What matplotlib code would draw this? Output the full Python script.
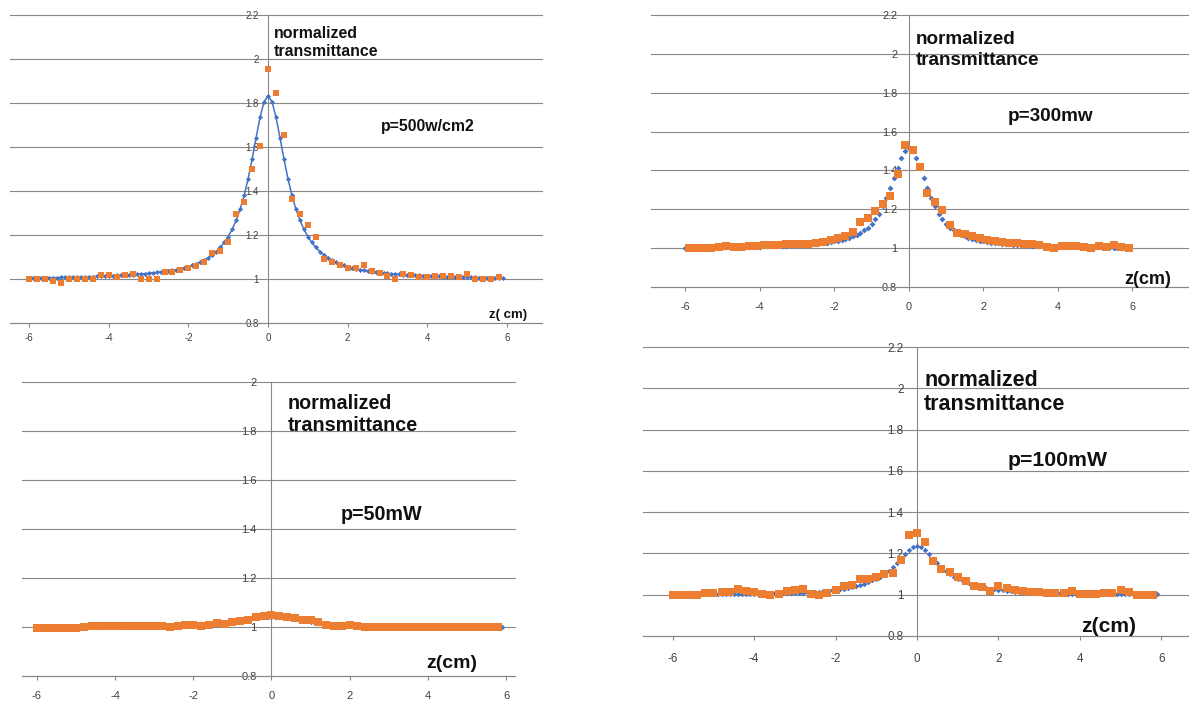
import numpy as np
import matplotlib.pyplot as plt
from matplotlib.ticker import FixedLocator, FixedFormatter

plt.rcParams['font.family'] = ['Liberation Sans', 'DejaVu Sans']
plt.rcParams['axes.unicode_minus'] = False

# --- data ---
# fitted curve sampled every 0.1 from -6.0 to 5.9, measured points every 0.2
z_fit = np.round(np.arange(-60, 60) / 10, 1)
z_meas = np.round(np.arange(-30, 30) * 0.2, 1)        # -6.0 .. 5.8
z_meas_odd = np.round(np.arange(-29.5, 30) * 0.2, 1)  # -5.9 .. 5.9

fit_500 = [1.004, 1.004, 1.005, 1.005, 1.005, 1.006, 1.006, 1.006, 1.007, 1.007,
           1.008, 1.008, 1.009, 1.009, 1.010, 1.010, 1.011, 1.012, 1.012, 1.013,
           1.014, 1.015, 1.016, 1.017, 1.018, 1.019, 1.020, 1.021, 1.023, 1.024,
           1.026, 1.028, 1.030, 1.032, 1.034, 1.037, 1.040, 1.043, 1.047, 1.051,
           1.056, 1.062, 1.069, 1.077, 1.086, 1.097, 1.110, 1.125, 1.144, 1.166,
           1.193, 1.226, 1.267, 1.318, 1.380, 1.456, 1.545, 1.642, 1.736, 1.806,
           1.833,
           1.806, 1.736, 1.642, 1.545, 1.456, 1.380, 1.318, 1.267, 1.226, 1.193,
           1.166, 1.144, 1.125, 1.110, 1.097, 1.086, 1.077, 1.069, 1.062, 1.056,
           1.051, 1.047, 1.043, 1.040, 1.037, 1.034, 1.032, 1.030, 1.028, 1.026,
           1.024, 1.023, 1.021, 1.020, 1.019, 1.018, 1.017, 1.016, 1.015, 1.014,
           1.013, 1.012, 1.012, 1.011, 1.010, 1.010, 1.009, 1.009, 1.008, 1.008,
           1.007, 1.007, 1.006, 1.006, 1.006, 1.005, 1.005, 1.005, 1.004]
meas_500 = [1.000, 1.000, 1.000, 0.990, 0.980, 1.000, 1.000, 1.000, 1.000, 1.018,
            1.018, 1.008, 1.018, 1.024, 1.000, 1.000, 1.000, 1.030, 1.030, 1.040,
            1.050, 1.060, 1.076, 1.120, 1.126, 1.167, 1.297, 1.348, 1.500, 1.603,
            1.955, 1.844, 1.655, 1.365, 1.294, 1.244, 1.190, 1.090, 1.076, 1.065,
            1.050, 1.050, 1.062, 1.035, 1.027, 1.015, 1.000, 1.024, 1.020, 1.010,
            1.010, 1.015, 1.012, 1.012, 1.008, 1.024, 1.000, 1.000, 1.000, 1.010]

fit_300 = [1.002, 1.003, 1.003, 1.003, 1.003, 1.003, 1.004, 1.004, 1.004, 1.004,
           1.005, 1.005, 1.005, 1.006, 1.006, 1.006, 1.007, 1.007, 1.007, 1.008,
           1.008, 1.009, 1.009, 1.010, 1.011, 1.011, 1.012, 1.013, 1.014, 1.015,
           1.016, 1.017, 1.018, 1.019, 1.021, 1.023, 1.025, 1.027, 1.029, 1.032,
           1.035, 1.039, 1.043, 1.048, 1.054, 1.061, 1.069, 1.079, 1.091, 1.106,
           1.124, 1.148, 1.178, 1.215, 1.260, 1.310, 1.362, 1.413, 1.462, 1.500,
           1.515,
           1.500, 1.462, 1.413, 1.362, 1.310, 1.260, 1.215, 1.178, 1.148, 1.124,
           1.106, 1.091, 1.079, 1.069, 1.061, 1.054, 1.048, 1.043, 1.039, 1.035,
           1.032, 1.029, 1.027, 1.025, 1.023, 1.021, 1.019, 1.018, 1.017, 1.016,
           1.015, 1.014, 1.013, 1.012, 1.011, 1.011, 1.010, 1.009, 1.009, 1.008,
           1.008, 1.007, 1.007, 1.007, 1.006, 1.006, 1.006, 1.005, 1.005, 1.005,
           1.004, 1.004, 1.004, 1.004, 1.003, 1.003, 1.003, 1.003, 1.003]
meas_300 = [1.002, 1.002, 1.001, 1.002, 1.008, 1.009, 1.008, 1.008, 1.012, 1.012,
            1.014, 1.014, 1.016, 1.019, 1.020, 1.021, 1.020, 1.025, 1.031, 1.040,
            1.050, 1.064, 1.082, 1.137, 1.155, 1.190, 1.227, 1.270, 1.380, 1.533,
            1.504, 1.420, 1.286, 1.240, 1.197, 1.120, 1.077, 1.075, 1.060, 1.050,
            1.043, 1.035, 1.030, 1.027, 1.025, 1.022, 1.020, 1.015, 1.005, 1.003,
            1.012, 1.010, 1.012, 1.008, 1.000, 1.012, 1.008, 1.016, 1.004, 1.003]

fit_50 = [1.001, 1.001, 1.001, 1.001, 1.001, 1.001, 1.001, 1.001, 1.001, 1.001,
          1.001, 1.002, 1.002, 1.002, 1.002, 1.002, 1.002, 1.002, 1.002, 1.002,
          1.002, 1.002, 1.002, 1.003, 1.003, 1.003, 1.003, 1.003, 1.004, 1.004,
          1.004, 1.004, 1.005, 1.005, 1.005, 1.006, 1.006, 1.007, 1.007, 1.008,
          1.008, 1.009, 1.010, 1.011, 1.012, 1.013, 1.014, 1.016, 1.018, 1.020,
          1.022, 1.024, 1.027, 1.029, 1.032, 1.035, 1.037, 1.039, 1.041, 1.042,
          1.042,
          1.042, 1.041, 1.039, 1.037, 1.035, 1.032, 1.029, 1.027, 1.024, 1.022,
          1.020, 1.018, 1.016, 1.014, 1.013, 1.012, 1.011, 1.010, 1.009, 1.008,
          1.008, 1.007, 1.007, 1.006, 1.006, 1.005, 1.005, 1.005, 1.004, 1.004,
          1.004, 1.004, 1.003, 1.003, 1.003, 1.003, 1.003, 1.002, 1.002, 1.002,
          1.002, 1.002, 1.002, 1.002, 1.002, 1.002, 1.002, 1.002, 1.002, 1.001,
          1.001, 1.001, 1.001, 1.001, 1.001, 1.001, 1.001, 1.001, 1.001]
meas_50 = [0.997, 0.997, 0.997, 0.997, 0.997, 0.997, 0.998, 1.004, 1.005, 1.004,
           1.005, 1.004, 1.004, 1.003, 1.004, 1.003, 1.004, 1.002, 1.005, 1.009,
           1.008, 1.004, 1.010, 1.015, 1.014, 1.020, 1.026, 1.030, 1.040, 1.043,
           1.047, 1.045, 1.040, 1.035, 1.030, 1.028, 1.020, 1.010, 1.006, 1.004,
           1.007, 1.006, 1.002, 1.001, 1.002, 1.001, 1.002, 1.000, 0.998, 1.002,
           1.001, 1.000, 0.998, 0.999, 1.002, 1.001, 0.998, 0.998, 0.998, 0.998]

fit_100 = [1.002, 1.002, 1.002, 1.002, 1.002, 1.002, 1.002, 1.003, 1.003, 1.003,
           1.003, 1.003, 1.003, 1.003, 1.003, 1.003, 1.004, 1.004, 1.004, 1.004,
           1.004, 1.005, 1.005, 1.005, 1.006, 1.006, 1.006, 1.007, 1.007, 1.008,
           1.008, 1.009, 1.010, 1.011, 1.012, 1.013, 1.015, 1.017, 1.019, 1.021,
           1.024, 1.027, 1.030, 1.034, 1.038, 1.043, 1.048, 1.054, 1.061, 1.069,
           1.078, 1.088, 1.100, 1.115, 1.133, 1.153, 1.175, 1.197, 1.217, 1.231,
           1.236,
           1.231, 1.217, 1.197, 1.175, 1.153, 1.133, 1.115, 1.100, 1.088, 1.078,
           1.069, 1.061, 1.054, 1.048, 1.043, 1.038, 1.034, 1.030, 1.027, 1.024,
           1.021, 1.019, 1.017, 1.015, 1.013, 1.012, 1.011, 1.010, 1.009, 1.008,
           1.008, 1.007, 1.007, 1.006, 1.006, 1.006, 1.005, 1.005, 1.005, 1.004,
           1.004, 1.004, 1.004, 1.004, 1.003, 1.003, 1.003, 1.003, 1.003, 1.003,
           1.003, 1.003, 1.003, 1.002, 1.002, 1.002, 1.002, 1.002, 1.002]
meas_100 = [1.000, 1.000, 1.000, 1.000, 1.008, 1.010, 1.013, 1.015, 1.028, 1.016,
            1.011, 1.002, 1.000, 1.004, 1.016, 1.025, 1.026, 1.003, 1.000, 1.008,
            1.021, 1.041, 1.049, 1.074, 1.077, 1.087, 1.098, 1.103, 1.170, 1.289,
            1.297, 1.253, 1.163, 1.123, 1.110, 1.087, 1.065, 1.044, 1.038, 1.018,
            1.043, 1.033, 1.025, 1.020, 1.012, 1.011, 1.010, 1.009, 1.010, 1.016,
            1.003, 1.003, 1.002, 1.008, 1.010, 1.025, 1.011, 1.000, 1.000, 1.000]

x_ticks = [-6, -4, -2, 0, 2, 4, 6]
x_labels = ['-6', '-4', '-2', '0', '2', '4', '6']
y_ticks_22 = [0.8, 1.0, 1.2, 1.4, 1.6, 1.8, 2.0, 2.2]
y_labels_22 = ['0.8', '1', '1.2', '1.4', '1.6', '1.8', '2', '2.2']
y_ticks_20 = [0.8, 1.0, 1.2, 1.4, 1.6, 1.8, 2.0]
y_labels_20 = ['0.8', '1', '1.2', '1.4', '1.6', '1.8', '2']

BLUE = '#4472C4'
ORANGE = '#ED7D31'
GRID = '#888888'
TICK = '#404040'

W, H = 1189, 702
fig = plt.figure(figsize=(W / 100, H / 100), dpi=100)


def make_panel(box, xlim, ylim, yticks, ylabels, fs, ypad, xpad):
    l, t, r, b = box
    ax = fig.add_axes([l / W, 1 - b / H, (r - l) / W, (b - t) / H])
    ax.set_xlim(*xlim)
    ax.set_ylim(*ylim)
    ax.spines['top'].set_visible(False)
    ax.spines['right'].set_visible(False)
    ax.spines['left'].set_position(('data', 0))
    for s in ('left', 'bottom'):
        ax.spines[s].set_color(GRID)
        ax.spines[s].set_linewidth(0.8)
        ax.spines[s].set_zorder(1)
    ax.yaxis.set_major_locator(FixedLocator(yticks))
    ax.yaxis.set_major_formatter(FixedFormatter(ylabels))
    ax.xaxis.set_major_locator(FixedLocator(x_ticks))
    ax.xaxis.set_major_formatter(FixedFormatter(x_labels))
    ax.tick_params(axis='y', length=0, pad=ypad, labelsize=fs, labelcolor=TICK)
    ax.tick_params(axis='x', direction='out', length=3, width=0.8, color=GRID,
                   pad=xpad, labelsize=fs, labelcolor=TICK)
    ax.yaxis.grid(True, color=GRID, lw=0.8)
    for gl in ax.get_ygridlines():
        gl.set_clip_on(False)
    ax.set_axisbelow(True)
    ax.patch.set_alpha(0)
    return ax


def label(x, y, s, size):
    fig.text(x / W, 1 - y / H, s, ha='left', va='baseline', fontsize=size,
             fontweight='bold', color='#111111')


# top left: p=500w/cm2
ax1 = make_panel((10, 15, 542, 323), (-6.48, 6.88), (0.8, 2.2),
                 y_ticks_22, y_labels_22, 7.0, 6.5, 4.0)
ax1.plot(z_fit, fit_500, '-D', color=BLUE, lw=1.1, ms=2.6, mew=0, zorder=3)
ax1.plot(z_meas, meas_500, 's', color=ORANGE, ms=4.6, mew=0, zorder=4)
label(274, 38, 'normalized', 11.4)
label(274, 56, 'transmittance', 11.4)
label(381, 131, 'p=500w/cm2', 11.4)
label(489, 318, 'z( cm)', 9.5)

# top right: p=300mw
ax2 = make_panel((651, 15, 1189, 287), (-6.92, 7.52), (0.8, 2.2),
                 y_ticks_22, y_labels_22, 7.8, 8.4, 7.6)
ax2.plot(z_fit, fit_300, 'D', color=BLUE, ms=3.0, mew=0, zorder=3)
ax2.plot(z_meas_odd, meas_300, 's', color=ORANGE, ms=5.8, mew=0, zorder=4)
label(916, 43.5, 'normalized', 13.6)
label(916, 65, 'transmittance', 13.6)
label(1008, 121, 'p=300mw', 13.6)
label(1124, 284, 'z(cm)', 13)

# bottom left: p=50mW
ax3 = make_panel((22, 382, 515, 676), (-6.38, 6.23), (0.8, 2.0),
                 y_ticks_20, y_labels_20, 8.0, 10.6, 7.5)
ax3.plot(z_fit, fit_50, 'D', color=BLUE, ms=2.8, mew=0, zorder=3)
ax3.plot(z_meas, meas_50, 's', color=ORANGE, ms=6.0, mew=0, zorder=4)
label(288, 409, 'normalized', 14.2)
label(288, 431, 'transmittance', 14.2)
label(341, 520, 'p=50mW', 14.2)
label(426, 668, 'z(cm)', 14)

# bottom right: p=100mW
ax4 = make_panel((643, 347, 1189, 636), (-6.73, 6.68), (0.8, 2.2),
                 y_ticks_22, y_labels_22, 8.4, 9.8, 9.3)
ax4.plot(z_fit, fit_100, 'D', color=BLUE, ms=2.8, mew=0, zorder=3)
ax4.plot(z_meas, meas_100, 's', color=ORANGE, ms=6.0, mew=0, zorder=4)
label(924, 385.5, 'normalized', 15.5)
label(924, 409.5, 'transmittance', 15.5)
label(1008, 465.5, 'p=100mW', 15.3)
label(1081, 632, 'z(cm)', 15.2)

fig.savefig('out.png', dpi=100, facecolor='white')
